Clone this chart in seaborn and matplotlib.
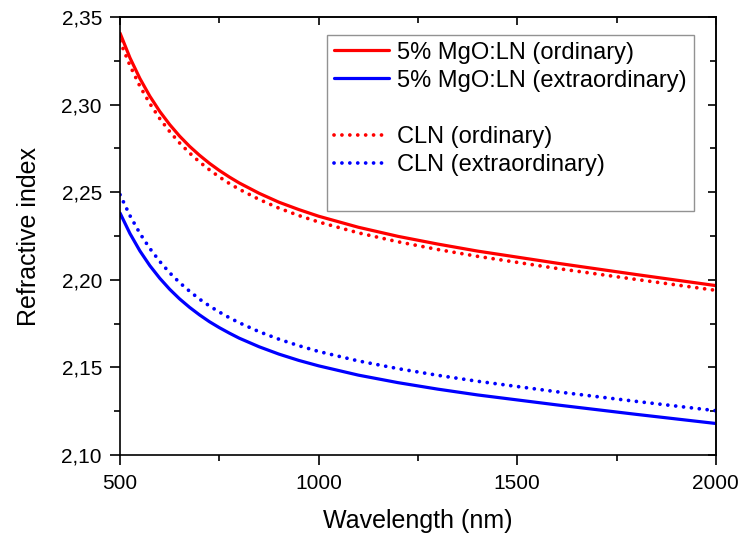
import matplotlib
matplotlib.use("Agg")
import matplotlib.pyplot as plt
import seaborn as sns
from matplotlib.lines import Line2D
from matplotlib.ticker import FuncFormatter, MultipleLocator

# wavelength (nm) and refractive index values
wavelength = [500, 525, 550, 575, 600, 625, 650, 675, 700, 725, 750, 775, 800,
              850, 900, 950, 1000, 1100, 1200, 1300, 1400, 1600, 1800, 2000]
mgo_ordinary = [2.3408, 2.3267, 2.3149, 2.3048, 2.2961, 2.2886, 2.2820, 2.2762,
                2.2711, 2.2665, 2.2624, 2.2587, 2.2553, 2.2494, 2.2443, 2.2401,
                2.2363, 2.2300, 2.2248, 2.2204, 2.2164, 2.2095, 2.2030, 2.1967]
mgo_extraordinary = [2.2381, 2.2264, 2.2165, 2.2081, 2.2009, 2.1946, 2.1891, 2.1843,
                     2.1800, 2.1761, 2.1727, 2.1696, 2.1667, 2.1618, 2.1576, 2.1540,
                     2.1509, 2.1456, 2.1413, 2.1376, 2.1343, 2.1286, 2.1232, 2.1180]
cln_ordinary = [2.3362, 2.3223, 2.3105, 2.3006, 2.2920, 2.2846, 2.2781, 2.2724,
                2.2673, 2.2628, 2.2587, 2.2550, 2.2517, 2.2459, 2.2409, 2.2367,
                2.2330, 2.2268, 2.2217, 2.2173, 2.2134, 2.2065, 2.2002, 2.1940]
cln_extraordinary = [2.2486, 2.2366, 2.2265, 2.2179, 2.2105, 2.2040, 2.1984, 2.1935,
                     2.1890, 2.1851, 2.1816, 2.1784, 2.1755, 2.1704, 2.1661, 2.1624,
                     2.1591, 2.1537, 2.1493, 2.1455, 2.1421, 2.1361, 2.1306, 2.1253]

sns.set_style("ticks")
plt.rcParams['font.family'] = ['Liberation Sans', 'DejaVu Sans']
plt.rcParams['text.color'] = 'black'
plt.rcParams['axes.labelcolor'] = 'black'
plt.rcParams['xtick.color'] = 'black'
plt.rcParams['ytick.color'] = 'black'

fig = plt.figure(figsize=(7.41, 5.35), dpi=100)
ax = fig.add_axes([0.162, 0.1495, 0.804, 0.8187])

lw = 2.3
dlw = 2.7
dots = (0, (0.01, 2.1))
sns.lineplot(x=wavelength, y=mgo_ordinary, color='#ff0000', lw=lw, ax=ax)
sns.lineplot(x=wavelength, y=mgo_extraordinary, color='#0000ff', lw=lw, ax=ax)
sns.lineplot(x=wavelength, y=cln_ordinary, color='#ff0000', lw=dlw, ax=ax,
             linestyle=dots)
sns.lineplot(x=wavelength, y=cln_extraordinary, color='#0000ff', lw=dlw, ax=ax,
             linestyle=dots)
for line in ax.lines:
    line.set_dash_capstyle('round')
    line.set_solid_capstyle('round')

ax.set_xlim(500, 2000)
ax.set_ylim(2.10, 2.35)
ax.xaxis.set_major_locator(MultipleLocator(500))
ax.xaxis.set_minor_locator(MultipleLocator(250))
ax.yaxis.set_major_locator(MultipleLocator(0.05))
ax.yaxis.set_minor_locator(MultipleLocator(0.025))
ax.yaxis.set_major_formatter(FuncFormatter(lambda v, p: f"{v:.2f}".replace('.', ',')))

for side in ['left', 'right', 'top', 'bottom']:
    ax.spines[side].set_visible(True)
    ax.spines[side].set_linewidth(1.2)
    ax.spines[side].set_color('black')

ax.tick_params(which='major', length=7, width=1.2, labelsize=15,
               color='black', labelcolor='black')
ax.tick_params(axis='y', which='major', pad=6)
ax.tick_params(axis='x', which='major', pad=7)
ax.tick_params(which='minor', length=4, width=1.2, color='black')
# mirrored ticks on top/right pointing inward
sec_x = ax.secondary_xaxis('top')
sec_x.set_xticks([500, 1000, 1500, 2000])
sec_x.xaxis.set_minor_locator(MultipleLocator(250))
sec_x.tick_params(which='major', direction='in', length=6, width=1.2, labeltop=False)
sec_x.tick_params(which='minor', direction='in', length=4, width=1.2)
sec_x.spines['top'].set_linewidth(1.2)
sec_y = ax.secondary_yaxis('right')
sec_y.yaxis.set_major_locator(MultipleLocator(0.05))
sec_y.yaxis.set_minor_locator(MultipleLocator(0.025))
sec_y.tick_params(which='major', direction='in', length=6, width=1.2, labelright=False)
sec_y.tick_params(which='minor', direction='in', length=4, width=1.2)
sec_y.spines['right'].set_linewidth(1.2)

ax.set_xlabel('Wavelength (nm)', fontsize=18, labelpad=11)
ax.set_ylabel('Refractive index', fontsize=18, labelpad=15)

dot_handle = dict(lw=dlw, linestyle=dots, dash_capstyle='round')
handles = [
    Line2D([], [], color='#ff0000', lw=lw),
    Line2D([], [], color='#0000ff', lw=lw),
    Line2D([], [], linestyle='none'),
    Line2D([], [], color='#ff0000', **dot_handle),
    Line2D([], [], color='#0000ff', **dot_handle),
    Line2D([], [], linestyle='none'),
]
labels = ['5% MgO:LN (ordinary)', '5% MgO:LN (extraordinary)', ' ',
          'CLN (ordinary)', 'CLN (extraordinary)', ' ']
leg = ax.legend(handles, labels, loc='upper left', bbox_to_anchor=(0.348, 0.96),
                fontsize=17, frameon=True, fancybox=False, handlelength=2.3,
                handletextpad=0.35, labelspacing=0.26, borderpad=0.3,
                borderaxespad=0)
leg.get_frame().set_edgecolor('#777777')
leg.get_frame().set_linewidth(1.0)

fig.savefig('out.png', dpi=100)
